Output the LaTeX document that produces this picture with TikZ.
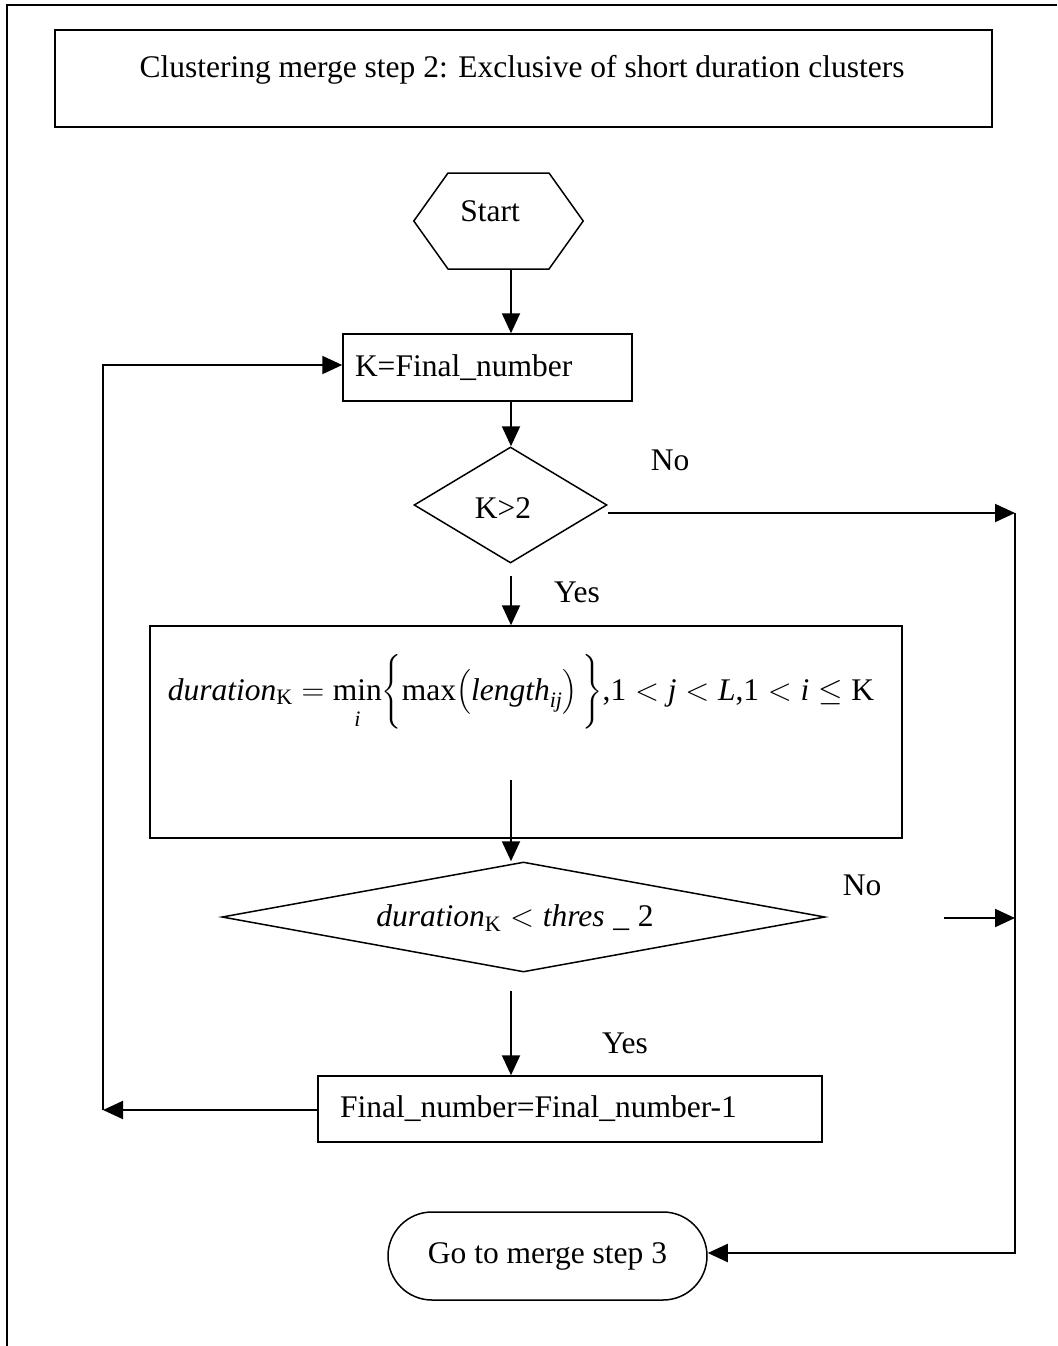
\RequirePackage{fix-cm}
\documentclass[tikz,border=0pt]{standalone}
\usepackage{amsmath}
\usepackage{fontspec}
\setmainfont{Liberation Serif}
\usetikzlibrary{arrows.meta,shapes.geometric}

\newcommand{\bigfont}{\fontsize{31.5}{37}\selectfont}

\begin{document}
\begin{tikzpicture}[x=1pt,y=-1pt,
  every node/.style={font=\bigfont},
  frame/.style={draw,line width=1.5pt},
  box/.style={draw,line width=1.5pt,rectangle,inner sep=0pt},
  decide/.style={draw,line width=1.5pt,diamond,inner sep=0pt},
  lab/.style={inner sep=0pt},
  conn/.style={line width=2pt},
  arr/.style={conn,-{Triangle[length=20pt,width=18pt]}}
]
\useasboundingbox (0,0) rectangle (1057,1346);

% page frame (top and left edges only)
\draw[line width=2pt] (1057,5) -- (7,5) -- (7,1346);

% title
\node[box,minimum width=937pt,minimum height=97pt] (title) at (523.5,78.5) {};
\node[lab] (titletext) at (522,70) {Clustering merge step 2: Exclusive of short duration clusters};

% start (hexagon)
\node[lab,minimum width=169pt,minimum height=96pt] (start) at (498.5,221) {};
\draw[frame] (start.west) -- (448,173) -- (549,173) -- (start.east) -- (549,269) -- (448,269) -- cycle;
\node[lab] (starttext) at (490,211) {Start};

% spine of the main flow
\coordinate (spine) at (511,0);

% K = Final_number
\node[box,minimum width=289pt,minimum height=67pt,text width=265pt,align=left] (kbox) at (487.5,367.5) {K=Final\_number};

% K > 2
\node[decide,minimum width=193pt,minimum height=116pt] (d1) at (510.5,505) {};
\node[lab] (d1text) at (503,508) {K>2};
\node[lab] (no1) at (670,460) {No};
\node[lab] (yes1) at (577,592) {Yes};

% duration formula
\node[box,minimum width=752pt,minimum height=212pt] (fbox) at (526,732) {};
\node[lab] (formula) at (521,692) {$\textit{duration}_{\text{K}} = \mathop{\text{min}}\limits_{\rule{0pt}{22pt}\textit{i}}\!\left\{\text{max}\!\left(\textit{length}_{\textit{ij}}\vphantom{\rule[-16pt]{0pt}{48pt}}\right)\vphantom{\rule[-30pt]{0pt}{76pt}}\right\}\!\text{,1} < \textit{j} < \textit{L}\text{,1} < \textit{i} \le \text{K}$};
\coordinate (fout) at (511,780);

% duration_K < thres_2
\node[decide,minimum width=603pt,minimum height=110pt] (d2) at (523.5,917) {};
\node[lab] (d2text) at (515,918) {$\textit{duration}_{\text{K}} < \textit{thres}\;\_\;\text{2}$};
\node[lab] (no2) at (862,885) {No};
\node[lab] (yes2) at (625,1043) {Yes};

% Final_number = Final_number - 1
\node[box,minimum width=504pt,minimum height=66pt,text width=460pt,align=left] (finbox) at (570,1109) {Final\_number=Final\_number-1};

% end terminal
\node[box,minimum width=319pt,minimum height=88pt,rounded corners=44pt] (gobox) at (547.5,1256) {Go to merge step 3};

% connector corner points
\coordinate (rtop) at (1015,513);
\coordinate (rmid) at (1015,918);
\coordinate (rbot) at (1015,1253);
\coordinate (nostart) at (944,918);
\coordinate (lbot) at (103,1110);
\coordinate (ltop) at (103,365);

% connectors
\draw[arr] (start.south -| spine) -- (kbox.north -| spine);
\draw[arr] (kbox.south -| spine) -- (d1.north -| spine);
\draw[arr] (d1.east |- rtop) -- (rtop);
\draw[arr,shorten <=12pt] (d1.south -| spine) -- (fbox.north -| spine);
\draw[arr] (fout) -- (d2.north -| spine);
\draw[arr] (nostart) -- (rmid);
\draw[arr,shorten <=18pt] (d2.south -| spine) -- (finbox.north -| spine);
\draw[arr] (finbox.west |- lbot) -- (lbot);
\draw[arr] (lbot) -- (ltop) -- (kbox.west |- ltop);
\draw[arr] (rtop) -- (rbot) -- (gobox.east |- rbot);
\end{tikzpicture}
\end{document}
